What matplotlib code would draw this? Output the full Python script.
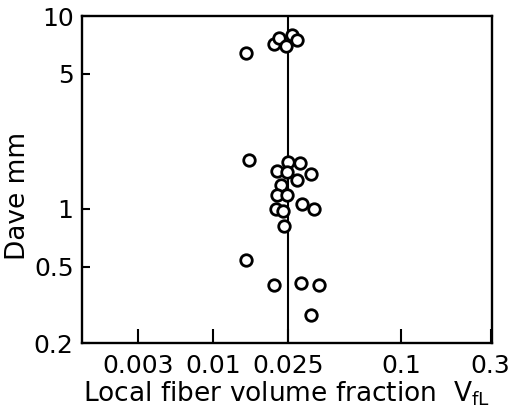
import numpy as np
import matplotlib
matplotlib.use("Agg")
import matplotlib.pyplot as plt
import matplotlib.ticker as ticker

# local fiber volume fraction vs average diameter
vf_top = [0.0150, 0.0211, 0.0225, 0.0246, 0.0262, 0.0279]
d_top = [6.43, 7.19, 7.70, 6.99, 7.95, 7.49]

vf_mid = [0.0156, 0.0251, 0.0291, 0.0218, 0.0247, 0.0332, 0.0279, 0.0229,
          0.0218, 0.0247, 0.0299, 0.0345, 0.0217, 0.0235, 0.0239]
d_mid = [1.78, 1.75, 1.73, 1.56, 1.55, 1.51, 1.40, 1.33,
         1.17, 1.18, 1.06, 1.00, 1.00, 0.97, 0.81]

vf_low = [0.0150, 0.0211, 0.0293, 0.0367, 0.0332]
d_low = [0.54, 0.40, 0.41, 0.40, 0.28]

vf_mean = 0.025

# tick positions on the printed scale and their labels
xtick_pos = [0.0040, 0.01, 0.025, 0.1, 0.3]
xtick_lab = ['0.003', '0.01', '0.025', '0.1', '0.3']
ytick_pos = [0.2, 0.5, 1, 5, 10]
ytick_lab = ['0.2', '0.5', '1', '5', '10']

plt.rcParams['font.family'] = ['DejaVu Sans']

fig = plt.figure(figsize=(5.12, 4.11), dpi=100)
ax = fig.add_axes([0.160, 0.165, 0.801, 0.796])

x = np.array(vf_top + vf_mid + vf_low)
y = np.array(d_top + d_mid + d_low)
ax.plot(x, y, 'o', ms=8.3, mfc='white', mec='black', mew=2.0, zorder=3)
ax.axvline(vf_mean, color='black', lw=1.5, zorder=2)

ax.set_xscale('log')
ax.set_yscale('log')
ax.set_xlim(0.00201, 0.305)
ax.set_ylim(0.2, 10)

ax.xaxis.set_major_locator(ticker.FixedLocator(xtick_pos))
ax.xaxis.set_major_formatter(ticker.FixedFormatter(xtick_lab))
ax.xaxis.set_minor_locator(ticker.NullLocator())
ax.yaxis.set_major_locator(ticker.FixedLocator(ytick_pos))
ax.yaxis.set_major_formatter(ticker.FixedFormatter(ytick_lab))
ax.yaxis.set_minor_locator(ticker.NullLocator())

ax.tick_params(axis='both', direction='in', width=1.5, labelsize=18)
ax.tick_params(axis='x', length=10, pad=8)
ax.tick_params(axis='y', length=6, pad=6)

for s in ax.spines.values():
    s.set_linewidth(1.7)

ax.set_xlabel(r'Local fiber volume fraction  V$_{\mathregular{fL}}$', fontsize=19, labelpad=1)
ax.set_ylabel('Dave mm', fontsize=19, labelpad=4)
ax.yaxis.set_label_coords(-0.125, 0.45)

fig.savefig('out.png', dpi=100)
